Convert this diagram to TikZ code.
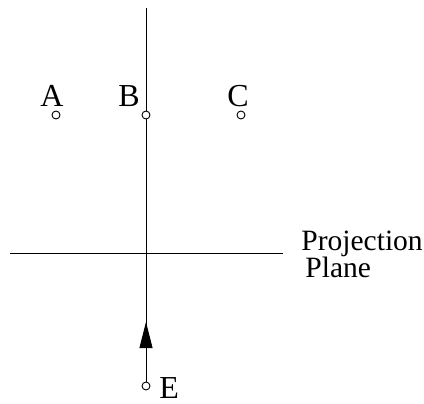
\documentclass[tikz,border=0pt]{standalone}
\usepackage{fontspec}
\setmainfont{Liberation Serif}
\usetikzlibrary{arrows.meta}
\begin{document}
\begin{tikzpicture}[x=1pt,y=-1pt,line width=0.9pt,
  pt/.style={circle,draw,fill=white,inner sep=0pt,minimum size=8pt,line width=0.9pt},
  lbl/.style={anchor=base west,inner sep=0pt,font=\fontsize{32}{32}\selectfont},
  txt/.style={anchor=base west,inner sep=0pt,font=\fontsize{29.5}{29.5}\selectfont}]
\useasboundingbox (0,0) rectangle (424,404);
\node[pt] (A) at (56,115) {};
\node[pt] (B) at (146,115) {};
\node[pt] (C) at (241,115) {};
\node[pt] (E) at (146,386) {};
\coordinate (top) at (146,8);
\coordinate (tip) at (146,322);
\coordinate (hl) at (10,253);
\coordinate (hr) at (283,253);
\draw (top) -- (B);
\draw (B) -- (E);
\draw (hl) -- (hr);
\draw[-{Triangle[length=26pt,width=13pt]}] (E) -- (tip);
\node[lbl] (la) at (40,107) {A};
\node[lbl] (lb) at (118,107) {B};
\node[lbl] (lc) at (227,107) {C};
\node[lbl] (le) at (159,398) {E};
\node[txt] (p1) at (301,251) {Projection};
\node[txt] (p2) at (305,278) {Plane};
\end{tikzpicture}
\end{document}
